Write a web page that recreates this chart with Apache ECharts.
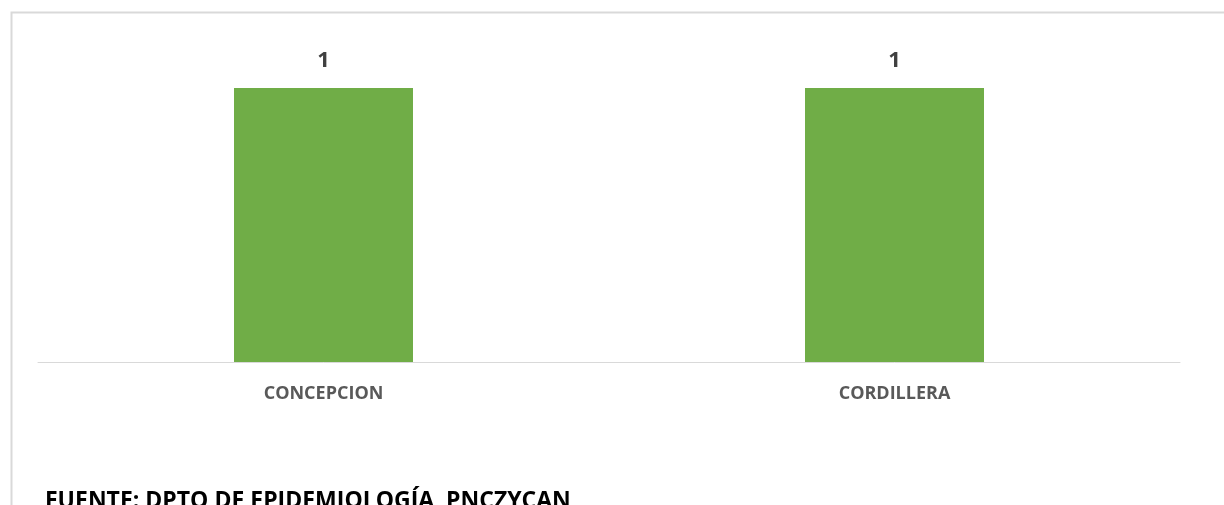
<!DOCTYPE html>
<html>
<head>
<meta charset="utf-8">
<script src="https://cdn.jsdelivr.net/npm/echarts@6/dist/echarts.min.js"></script>
<style>
  html, body { margin: 0; padding: 0; background: #fff; }
  #chart { width: 1224px; height: 505px; }
</style>
</head>
<body>
<div id="chart"></div>
<script>
// Departamentos y casos
const departamentos = ['CONCEPCION', 'CORDILLERA'];
const casos = [1, 1];
const fuente = 'FUENTE: DPTO DE EPIDEMIOLOGÍA  PNCZYCAN';

const chart = echarts.init(document.getElementById('chart'), null, { renderer: 'canvas' });

const option = {
  backgroundColor: '#ffffff',
  animation: false,
  grid: { left: 38, right: 44, top: 88, bottom: 143 },
  graphic: [
    {
      type: 'rect',
      left: 9, top: 10,
      shape: { width: 1400, height: 700 },
      style: { fill: 'none', stroke: '#d9d9d9', lineWidth: 2 },
      silent: true,
    },
    {
      type: 'text',
      left: 45, top: 490,
      style: {
        text: fuente,
        font: 'bold 23px "Open Sans", sans-serif',
        fill: '#000000',
      },
    },
  ],
  xAxis: {
    type: 'category',
    data: departamentos,
    axisLine: { lineStyle: { color: '#d9d9d9', width: 1 } },
    axisTick: { show: false },
    axisLabel: {
      color: '#595959',
      fontFamily: 'Open Sans',
      fontWeight: 'bold',
      fontSize: 18,
      margin: 23,
    },
  },
  yAxis: {
    type: 'value',
    min: 0,
    max: 1,
    show: false,
    splitLine: { show: false },
  },
  series: [
    {
      type: 'bar',
      data: casos,
      barWidth: 179,
      itemStyle: { color: '#70ad47' },
      label: {
        show: true,
        position: 'top',
        distance: 16,
        color: '#404040',
        fontFamily: 'Open Sans',
        fontWeight: 'bold',
        fontSize: 22,
      },
    },
  ],
};

chart.setOption(option);
</script>
</body>
</html>
